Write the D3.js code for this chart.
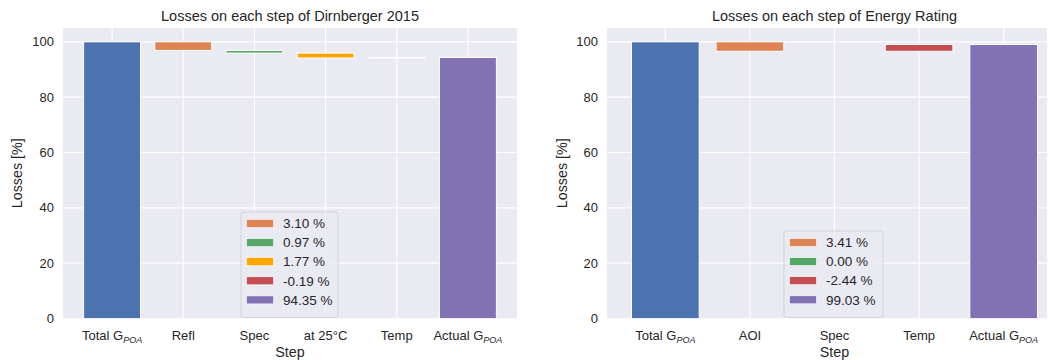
<!DOCTYPE html>
<html><head><meta charset="utf-8">
<script src="https://cdn.jsdelivr.net/npm/d3@7"></script>
<style>body{margin:0;background:#fff}text{font-family:"Liberation Sans",Arial,sans-serif;fill:#262626}</style>
</head><body><svg id="c" width="1051" height="360"></svg>
<script>
// ---- data ----
const titleA = "Losses on each step of Dirnberger 2015";
const stepsA = ["Total G_POA", "Refl", "Spec", "at 25°C", "Temp", "Actual G_POA"];
const lossesA = [3.10, 0.97, 1.77, -0.19];
const totalA = 100;
const actualA = 94.35;
const colorsA = ["#4c72b0", "#dd8452", "#55a868", "#ffa500", "#c44e52", "#8172b3"];

const titleB = "Losses on each step of Energy Rating";
const stepsB = ["Total G_POA", "AOI", "Spec", "Temp", "Actual G_POA"];
const lossesB = [3.41, 0.00, -2.44];
const totalB = 100;
const actualB = 99.03;
const colorsB = ["#4c72b0", "#dd8452", "#55a868", "#c44e52", "#8172b3"];

const yTicks = [0, 20, 40, 60, 80, 100];
const yLabel = "Losses [%]";
const xLabel = "Step";

const svg = d3.select("#c");

function drawPanel(o) {
  const g = svg.append("g");
  const n = o.steps.length;
  const x = d3.scaleLinear().domain([-0.69, n - 1 + 0.69]).range([o.x0, o.x1]);
  const y = d3.scaleLinear().domain([0, 105]).range([318.5, 28]);
  const clipId = "clip" + o.id;
  g.append("clipPath").attr("id", clipId).append("rect")
    .attr("x", o.x0).attr("y", 28).attr("width", o.clipR - o.x0).attr("height", 318.5 - 28);
  g.append("rect").attr("x", o.x0).attr("y", 28).attr("width", o.clipR - o.x0).attr("height", 318.5 - 28).attr("fill", "#eaeaf2");
  const pg = g.append("g").attr("clip-path", `url(#${clipId})`);
  // grid
  pg.selectAll(".gy").data(yTicks).join("line")
    .attr("x1", o.x0).attr("x2", o.clipR).attr("y1", d => y(d)).attr("y2", d => y(d))
    .attr("stroke", "#fff").attr("stroke-width", 1.1);
  pg.selectAll(".gx").data(d3.range(n)).join("line")
    .attr("x1", d => x(d)).attr("x2", d => x(d)).attr("y1", 28).attr("y2", 318.5)
    .attr("stroke", "#fff").attr("stroke-width", 1.1);
  // waterfall bars
  const bars = [];
  bars.push({ i: 0, lo: 0, hi: o.total });
  let level = o.total;
  o.losses.forEach((l, k) => {
    const next = level - l;
    bars.push({ i: k + 1, lo: Math.min(level, next), hi: Math.max(level, next) });
    level = next;
  });
  bars.push({ i: n - 1, lo: 0, hi: o.actual });
  const bw = 0.8;
  pg.selectAll(".bar").data(bars).join("rect")
    .attr("x", d => x(d.i - bw / 2)).attr("width", d => x(bw) - x(0))
    .attr("y", d => y(d.hi)).attr("height", d => y(d.lo) - y(d.hi))
    .attr("fill", d => o.colors[d.i]).attr("stroke", "#fff").attr("stroke-width", 1);
  // y axis labels
  g.selectAll(".yt").data(yTicks).join("text")
    .attr("x", o.x0 - 9).attr("y", d => y(d)).attr("dy", "0.35em")
    .attr("text-anchor", "end").attr("font-size", 13).text(d => d);
  // x tick labels
  const xt = g.selectAll(".xt").data(o.steps).join("text")
    .attr("x", (d, i) => x(i)).attr("y", 339.5).attr("text-anchor", "middle").attr("font-size", 13);
  xt.each(function (d) {
    const parts = d.split("_");
    const t = d3.select(this);
    t.append("tspan").text(parts[0]);
    if (parts[1]) t.append("tspan").attr("font-size", 9).attr("font-style", "italic").attr("dy", 3).text(parts[1]);
  });
  // axis labels
  const cx = (x.range()[0] + x.range()[1]) / 2;
  g.append("text").attr("x", cx).attr("y", 357).attr("text-anchor", "middle").attr("font-size", 14.3).text(xLabel);
  g.append("text").attr("transform", `translate(${o.ylx},${(28 + 318.5) / 2}) rotate(-90)`)
    .attr("text-anchor", "middle").attr("dy", "0.35em").attr("font-size", 14.3).text(yLabel);
  g.append("text").attr("x", cx).attr("y", 21).attr("text-anchor", "middle").attr("font-size", 14.5).text(o.title);
  // legend
  const items = o.losses.map((l, k) => ({ c: o.colors[k + 1], t: l.toFixed(2) + " %" }))
    .concat([{ c: o.colors[n - 1], t: o.actual.toFixed(2) + " %" }]);
  const lg = g.append("g");
  lg.append("rect").attr("x", o.lx).attr("y", o.ly).attr("width", o.lw).attr("height", 10 + items.length * 19.1)
    .attr("rx", 2.5).attr("fill", "#eaeaf2").attr("fill-opacity", 0.8).attr("stroke", "#d2d2d8").attr("stroke-width", 1);
  items.forEach((it, k) => {
    const cy = o.ly + 11.5 + k * 19.1;
    lg.append("rect").attr("x", o.lx + 5.5).attr("y", cy - 4).attr("width", 27).attr("height", 8)
      .attr("fill", it.c).attr("stroke", "#fff").attr("stroke-width", 0.6);
    lg.append("text").attr("x", o.lx + 42).attr("y", cy).attr("dy", "0.35em").attr("font-size", 13.5).text(it.t);
  });
}

drawPanel({ id: "A", title: titleA, steps: stepsA, losses: lossesA, total: totalA, actual: actualA, colors: colorsA,
  x0: 63, x1: 517, clipR: 517, ylx: 17, lx: 241, ly: 212, lw: 97 });
drawPanel({ id: "B", title: titleB, steps: stepsB, losses: lossesB, total: totalB, actual: actualB, colors: colorsB,
  x0: 607, x1: 1062, clipR: 1047, ylx: 562, lx: 784, ly: 231, lw: 99 });
</script></body></html>
